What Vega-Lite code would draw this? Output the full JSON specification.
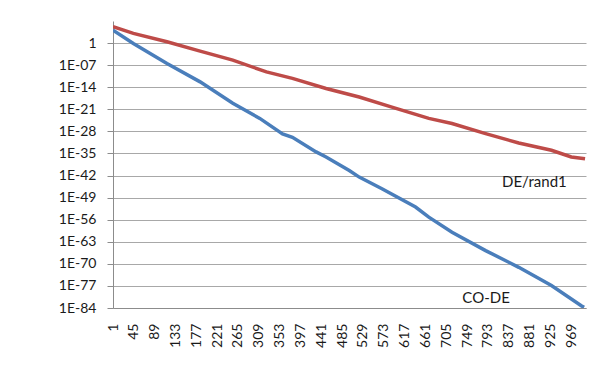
{
  "$schema": "https://vega.github.io/schema/vega-lite/v6.json",
  "width": 473,
  "height": 287,
  "autosize": "none",
  "padding": {"left": 113, "top": 21, "right": 15, "bottom": 62},
  "background": "white",
  "config": {
    "view": {"stroke": null},
    "font": "Lato",
    "axis": {"labelFont": "Lato", "labelColor": "#1a1a1a", "domainColor": "#8c8c8c", "tickColor": "#8c8c8c", "gridColor": "#a8a8a8"}
  },
  "datasets": {
    "series": [
      {"iter": 1, "value": 1.5e5, "series": "DE/rand1"},
      {"iter": 44, "value": 1.2e3, "series": "DE/rand1"},
      {"iter": 115, "value": 2.6, "series": "DE/rand1"},
      {"iter": 185, "value": 2.9e-3, "series": "DE/rand1"},
      {"iter": 254, "value": 4.0e-6, "series": "DE/rand1"},
      {"iter": 325, "value": 7.4e-10, "series": "DE/rand1"},
      {"iter": 380, "value": 6.3e-12, "series": "DE/rand1"},
      {"iter": 451, "value": 4.0e-15, "series": "DE/rand1"},
      {"iter": 521, "value": 7.9e-18, "series": "DE/rand1"},
      {"iter": 590, "value": 5.0e-21, "series": "DE/rand1"},
      {"iter": 668, "value": 1.3e-24, "series": "DE/rand1"},
      {"iter": 717, "value": 3.2e-26, "series": "DE/rand1"},
      {"iter": 788, "value": 2.0e-29, "series": "DE/rand1"},
      {"iter": 858, "value": 2.0e-32, "series": "DE/rand1"},
      {"iter": 927, "value": 1.0e-34, "series": "DE/rand1"},
      {"iter": 969, "value": 7.9e-37, "series": "DE/rand1"},
      {"iter": 998, "value": 2.0e-37, "series": "DE/rand1"},
      {"iter": 1, "value": 1.3e4, "series": "CO-DE"},
      {"iter": 44, "value": 0.79, "series": "CO-DE"},
      {"iter": 115, "value": 3.5e-7, "series": "CO-DE"},
      {"iter": 185, "value": 5.0e-13, "series": "CO-DE"},
      {"iter": 254, "value": 7.9e-20, "series": "CO-DE"},
      {"iter": 311, "value": 1.3e-24, "series": "CO-DE"},
      {"iter": 359, "value": 1.6e-29, "series": "CO-DE"},
      {"iter": 380, "value": 1.3e-30, "series": "CO-DE"},
      {"iter": 430, "value": 3.2e-35, "series": "CO-DE"},
      {"iter": 451, "value": 7.9e-37, "series": "CO-DE"},
      {"iter": 500, "value": 4.0e-41, "series": "CO-DE"},
      {"iter": 521, "value": 3.2e-43, "series": "CO-DE"},
      {"iter": 569, "value": 6.3e-47, "series": "CO-DE"},
      {"iter": 640, "value": 1.0e-52, "series": "CO-DE"},
      {"iter": 668, "value": 6.3e-56, "series": "CO-DE"},
      {"iter": 717, "value": 1.0e-60, "series": "CO-DE"},
      {"iter": 788, "value": 1.6e-66, "series": "CO-DE"},
      {"iter": 858, "value": 7.9e-72, "series": "CO-DE"},
      {"iter": 927, "value": 1.3e-77, "series": "CO-DE"},
      {"iter": 990, "value": 5.0e-84, "series": "CO-DE"},
      {"iter": 996, "value": 1.6e-84, "series": "CO-DE"}
    ],
    "labels": [
      {"iter": 891, "value": 1e-44, "text": "DE/rand1"},
      {"iter": 789, "value": 1.26e-81, "text": "CO-DE"}
    ]
  },
  "layer": [
    {
      "data": {"name": "series"},
      "mark": {"type": "line", "strokeWidth": 3.5, "clip": true},
      "encoding": {
        "x": {
          "field": "iter", "type": "quantitative",
          "scale": {"domain": [1, 1000], "nice": false, "zero": false},
          "axis": {
            "title": null, "grid": false, "ticks": false, "tickCount": 40,
            "values": [1, 45, 89, 133, 177, 221, 265, 309, 353, 397, 441, 485, 529, 573, 617, 661, 705, 749, 793, 837, 881, 925, 969],
            "labelAngle": -90, "labelFontSize": 14, "labelPadding": 15,
            "labelOverlap": false, "labelFlush": false, "labelBound": false
          }
        },
        "y": {
          "field": "value", "type": "quantitative",
          "scale": {"type": "log", "domain": [1e-84, 1e7], "nice": false},
          "axis": {
            "title": null, "tickCount": 40,
            "values": [1, 1e-7, 1e-14, 1e-21, 1e-28, 1e-35, 1e-42, 1e-49, 1e-56, 1e-63, 1e-70, 1e-77, 1e-84],
            "labelExpr": "datum.value >= 0.5 ? '1' : '1E-' + (round(-log(datum.value)/LN10) < 10 ? '0' : '') + round(-log(datum.value)/LN10)",
            "labelFontSize": 14, "tickSize": 6, "labelPadding": 11,
            "labelOverlap": false, "labelFlush": false
          }
        },
        "color": {
          "field": "series", "type": "nominal",
          "scale": {"domain": ["DE/rand1", "CO-DE"], "range": ["#BE4B48", "#4A7EBB"]},
          "legend": null
        }
      }
    },
    {
      "data": {"name": "labels"},
      "mark": {"type": "text", "font": "Lato", "fontSize": 15, "color": "#1a1a1a"},
      "encoding": {
        "x": {"field": "iter", "type": "quantitative"},
        "y": {"field": "value", "type": "quantitative"},
        "text": {"field": "text"}
      }
    }
  ]
}
